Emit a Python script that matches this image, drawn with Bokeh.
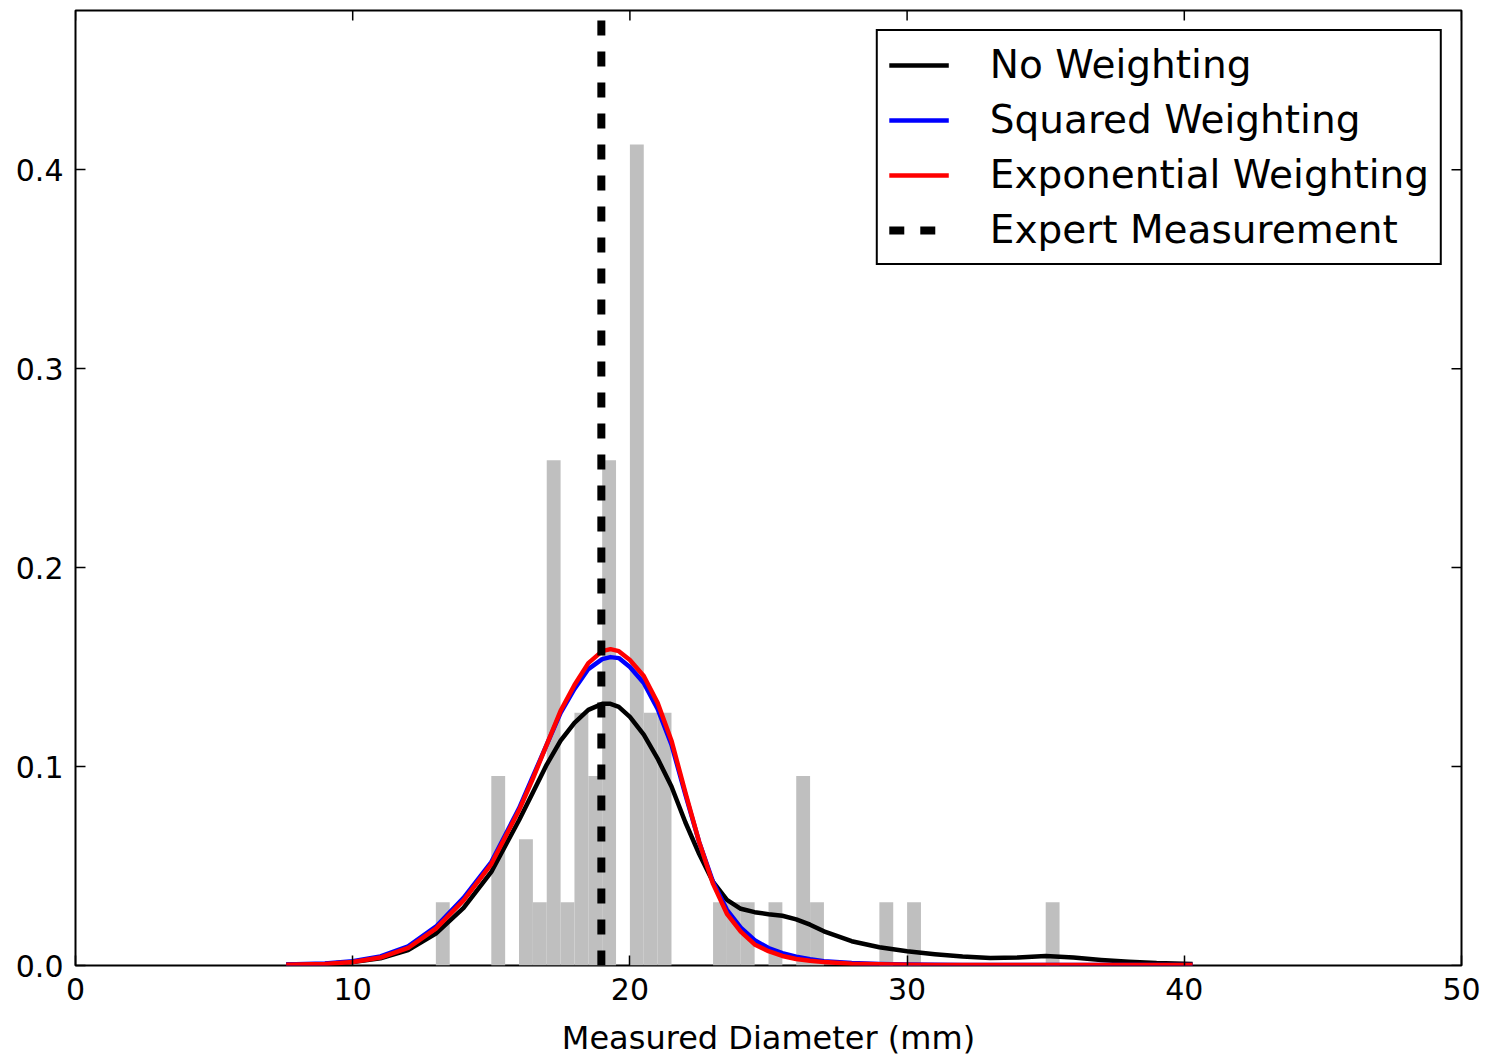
from bokeh.plotting import figure
from bokeh.models import (Range1d, FixedTicker, PrintfTickFormatter,
                          Legend, LegendItem, ColumnDataSource)
from bokeh.embed import file_html
from bokeh.resources import INLINE

# Histogram of measured diameters (bin left edge, count), bin width 0.5 mm
bin_width = 0.5
bin_left = [13.0, 15.0, 16.0, 16.5, 17.0, 17.5, 18.0, 18.5, 19.0, 20.0, 20.5,
            21.0, 23.0, 23.5, 24.0, 25.0, 26.0, 26.5, 29.0, 30.0, 35.0]
bin_count = [1, 3, 2, 1, 8, 1, 4, 3, 8, 13, 4,
             4, 1, 1, 1, 1, 3, 1, 1, 1, 1]

# Density estimates on a common diameter grid
grid_x = [7.6, 9.0, 10.0, 11.0, 12.0, 13.0, 14.0, 15.0, 16.0, 16.5, 17.0, 17.5, 18.0,
          18.5, 19.0, 19.3, 19.6, 20.0, 20.5, 21.0, 21.5, 22.0, 22.5, 23.0, 23.5,
          24.0, 24.5, 25.0, 25.5, 26.0, 26.5, 27.0, 28.0, 29.0, 30.0, 31.0, 32.0,
          33.0, 34.0, 35.0, 36.0, 37.0, 38.0, 39.0, 40.3]

no_weighting = [0.0004, 0.0008, 0.0017, 0.0036, 0.0078, 0.016, 0.029, 0.047, 0.073,
                0.087, 0.101, 0.113, 0.122, 0.1285, 0.1315, 0.1315, 0.130, 0.125, 0.116,
                0.104, 0.090, 0.072, 0.056, 0.042, 0.033, 0.0285, 0.0268, 0.0258,
                0.0250, 0.0232, 0.0205, 0.0172, 0.0122, 0.0092, 0.0072, 0.0057,
                0.0045, 0.0038, 0.0040, 0.0048, 0.0040, 0.0028, 0.0019, 0.0012, 0.0007]

squared_weighting = [0.0005, 0.0010, 0.0021, 0.0046, 0.0096, 0.0195, 0.034, 0.052,
                     0.079, 0.095, 0.111, 0.127, 0.139, 0.149, 0.154, 0.155, 0.1545, 0.150,
                     0.142, 0.129, 0.111, 0.086, 0.062, 0.042, 0.028, 0.019, 0.0127,
                     0.0088, 0.0062, 0.0044, 0.0031, 0.0022, 0.0012, 0.0007, 0.0005,
                     0.0004, 0.0003, 0.0003, 0.0003, 0.0003, 0.0003, 0.0002, 0.0002,
                     0.0002, 0.0002]

exponential_weighting = [0.0004, 0.0008, 0.0018, 0.0040, 0.0088, 0.0185, 0.0327, 0.051,
                         0.078, 0.094, 0.111, 0.128, 0.141, 0.152, 0.158, 0.159, 0.158, 0.1535,
                         0.1455, 0.132, 0.113, 0.087, 0.062, 0.041, 0.026, 0.017, 0.0106,
                         0.0072, 0.0048, 0.0033, 0.0024, 0.0017, 0.0009, 0.0006, 0.0004,
                         0.0003, 0.0003, 0.0002, 0.0002, 0.0002, 0.0002, 0.0002, 0.0002,
                         0.0002, 0.0002]

expert_measurement = 18.97

x_ticks = [0, 10, 20, 30, 40, 50]
y_ticks = [0.0, 0.1, 0.2, 0.3, 0.4]

FONT = "DejaVu Sans"
X_MIN, X_MAX = 0, 50
Y_MIN, Y_MAX = 0, 0.48
FRAME_W, FRAME_H = 1386, 955
TICK_PX = 10

p = figure(width=1489, height=1059, output_backend="svg", toolbar_location=None,
           x_range=Range1d(X_MIN, X_MAX), y_range=Range1d(Y_MIN, Y_MAX),
           min_border_left=75, min_border_right=28, min_border_top=10,
           min_border_bottom=94)
p.grid.visible = False
p.background_fill_color = "white"
p.border_fill_color = "white"
p.outline_line_color = "black"
p.outline_line_width = 2

# normalised histogram
total = sum(bin_count)
hist = ColumnDataSource(dict(
    left=bin_left,
    right=[b + bin_width for b in bin_left],
    top=[c / (total * bin_width) for c in bin_count],
    bottom=[0.0] * len(bin_left),
))
p.quad(left="left", right="right", top="top", bottom="bottom", source=hist,
       fill_color="#bfbfbf", line_color=None)

r_none = p.line(grid_x, no_weighting, line_color="black", line_width=4.5,
                line_join="round")
r_sq = p.line(grid_x, squared_weighting, line_color="#0000ff", line_width=4.5,
              line_join="round")
r_exp = p.line(grid_x, exponential_weighting, line_color="#ff0000", line_width=4.5,
               line_join="round")
r_expert = p.line([expert_measurement, expert_measurement], [Y_MIN, Y_MAX],
                  line_color="black", line_width=8, line_dash="15 16")

# bottom / left axes with inward ticks
for ax in (p.xaxis[0], p.yaxis[0]):
    ax.axis_line_color = None
    ax.major_tick_in = TICK_PX
    ax.major_tick_out = 0
    ax.minor_tick_line_color = None
    ax.major_tick_line_color = "black"
    ax.major_tick_line_width = 1.5
    ax.major_label_text_font = FONT
    ax.major_label_text_font_size = "30px"
    ax.major_label_text_color = "black"
    ax.major_label_standoff = 12

p.xaxis[0].ticker = FixedTicker(ticks=x_ticks)
p.yaxis[0].ticker = FixedTicker(ticks=y_ticks)
p.yaxis[0].formatter = PrintfTickFormatter(format="%.1f")
p.xaxis[0].axis_label = "Measured Diameter (mm)"
p.xaxis[0].axis_label_text_font = FONT
p.xaxis[0].axis_label_text_font_size = "32px"
p.xaxis[0].axis_label_text_font_style = "normal"
p.xaxis[0].axis_label_text_color = "black"
p.xaxis[0].axis_label_standoff = 16

# inward tick marks along the top and right edges of the frame
dy = TICK_PX * (Y_MAX - Y_MIN) / FRAME_H
dx = TICK_PX * (X_MAX - X_MIN) / FRAME_W
p.segment(x0=x_ticks, y0=[Y_MAX] * len(x_ticks), x1=x_ticks,
          y1=[Y_MAX - dy] * len(x_ticks), line_color="black", line_width=1.5)
p.segment(x0=[X_MAX] * len(y_ticks), y0=y_ticks, x1=[X_MAX - dx] * len(y_ticks),
          y1=y_ticks, line_color="black", line_width=1.5)

legend = Legend(items=[
    LegendItem(label="No Weighting", renderers=[r_none]),
    LegendItem(label="Squared Weighting", renderers=[r_sq]),
    LegendItem(label="Exponential Weighting", renderers=[r_exp]),
    LegendItem(label="Expert Measurement", renderers=[r_expert]),
], location="top_right")
legend.label_text_font = FONT
legend.label_text_font_size = "39px"
legend.label_text_color = "black"
legend.glyph_width = 60
legend.glyph_height = 40
legend.label_height = 40
legend.label_standoff = 41
legend.spacing = 10
legend.padding = 11
legend.margin = 19
legend.border_line_color = "black"
legend.border_line_alpha = 1.0
legend.border_line_width = 2
legend.background_fill_color = "white"
legend.background_fill_alpha = 1.0
p.add_layout(legend)

open("out.html", "w").write(file_html(p, INLINE))
